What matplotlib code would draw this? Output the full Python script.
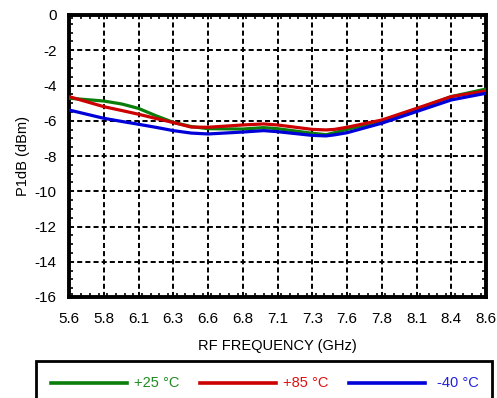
"""P1dB vs RF frequency at three temperatures."""

import matplotlib

matplotlib.use("Agg")
import matplotlib.pyplot as plt
from matplotlib.lines import Line2D
from matplotlib.patches import Rectangle
from matplotlib.ticker import MultipleLocator

plt.rcParams["font.family"] = ["Liberation Sans", "DejaVu Sans"]
plt.rcParams["axes.unicode_minus"] = False

# values
freq = [5.6, 5.85, 5.98, 6.1, 6.23, 6.35, 6.48, 6.6, 6.85, 7.0, 7.1, 7.35, 7.45, 7.51, 7.6, 7.85, 8.1, 8.35, 8.6]
p1db_25 = [-4.72, -4.88, -5.05, -5.3, -5.73, -6.09, -6.33, -6.45, -6.47, -6.39, -6.45, -6.71, -6.79, -6.68, -6.49, -6.03, -5.35, -4.63, -4.2]
p1db_85 = [-4.63, -5.2, -5.42, -5.63, -5.88, -6.1, -6.36, -6.37, -6.24, -6.18, -6.24, -6.49, -6.52, -6.49, -6.37, -5.96, -5.3, -4.63, -4.31]
p1db_m40 = [-5.39, -5.86, -6.04, -6.2, -6.38, -6.56, -6.7, -6.75, -6.64, -6.56, -6.62, -6.83, -6.86, -6.8, -6.68, -6.14, -5.48, -4.82, -4.44]

xticks = [5.6, 5.85, 6.1, 6.35, 6.6, 6.85, 7.1, 7.35, 7.6, 7.85, 8.1, 8.35, 8.6]
xtick_labels = ["5.6", "5.8", "6.1", "6.3", "6.6", "6.8", "7.1", "7.3", "7.6", "7.8", "8.1", "8.4", "8.6"]
yticks = [0, -2, -4, -6, -8, -10, -12, -14, -16]

series = [
    ("+25 °C", p1db_25, "#0a7d0a"),
    ("+85 °C", p1db_85, "#cc0000"),
    ("-40 °C", p1db_m40, "#0000d8"),
]
text_colors = ["#1e8c1e", "#dd1111", "#2222dd"]

W, H = 497, 398
fig = plt.figure(figsize=(W / 100, H / 100), dpi=100)
ax = fig.add_axes([69 / W, 1 - 297 / H, 417 / W, 282 / H])

for label, vals, color in series:
    ax.plot(freq, vals, color=color, lw=2.3, solid_capstyle="butt", zorder=3)

ax.set_xlim(5.6, 8.6)
ax.set_ylim(-16, 0)
ax.set_xticks(xticks)
ax.set_xticklabels(xtick_labels)
ax.set_yticks(yticks)
ax.xaxis.set_minor_locator(MultipleLocator(0.0625))
ax.yaxis.set_minor_locator(MultipleLocator(0.5))
ax.tick_params(which="both", direction="in", top=True, right=True, width=1.2,
               labelsize=11, colors="black")
ax.tick_params(which="major", length=0)
ax.tick_params(which="minor", length=3)
ax.tick_params(axis="x", pad=11)
ax.tick_params(axis="y", pad=9)
ax.grid(True, which="major", color="black", lw=1.4, linestyle=(0, (2.6, 1.6)))
for sp in ax.spines.values():
    sp.set_linewidth(2.8)

ax.set_xlabel("RF FREQUENCY (GHz)", fontsize=10.5, labelpad=9)
ax.set_ylabel("P1dB (dBm)", fontsize=10.5, labelpad=3)

# legend box, cut off at the bottom edge like the reference
fig.add_artist(Rectangle((36 / W, -0.05), 456 / W, 1 - 361 / H + 0.05,
                         transform=fig.transFigure, fill=False, lw=2.0,
                         edgecolor="black", clip_on=False))
line_x = [(51, 127), (200, 276), (349, 425)]
text_x = [134, 283, 437]
ly = 1 - 383 / H
for (label, _, color), tcol, (x0, x1), tx in zip(series, text_colors, line_x, text_x):
    fig.add_artist(Line2D([x0 / W, x1 / W], [ly, ly], transform=fig.transFigure,
                          color=color, lw=2.6))
    fig.text(tx / W, ly, label, color=tcol, fontsize=10.5, va="center", ha="left")

fig.savefig("out.png", dpi=100)
